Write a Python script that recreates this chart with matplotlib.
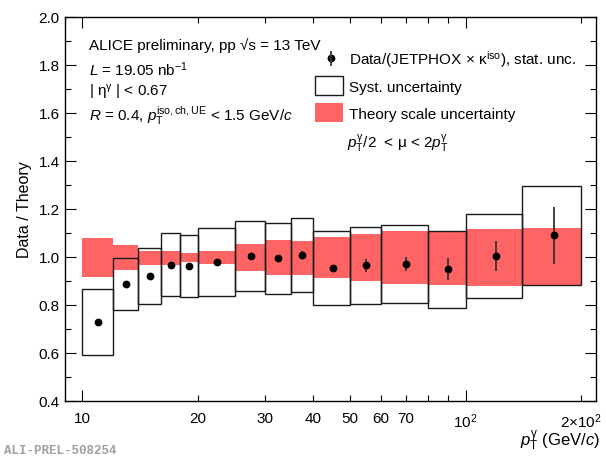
import numpy as np
import matplotlib
matplotlib.use("Agg")
import matplotlib.pyplot as plt
from matplotlib.ticker import FixedLocator, FixedFormatter
from matplotlib.patches import Rectangle
from matplotlib.lines import Line2D

plt.rcParams['font.family'] = ['Liberation Sans', 'DejaVu Sans']
plt.rcParams['mathtext.fontset'] = 'custom'
plt.rcParams['mathtext.rm'] = 'Liberation Sans'
plt.rcParams['mathtext.it'] = 'Liberation Sans:italic'
plt.rcParams['mathtext.bf'] = 'Liberation Sans:bold'
plt.rcParams['mathtext.sf'] = 'Liberation Sans'
plt.rcParams['mathtext.fallback'] = 'stixsans'

# pT binning (GeV/c) and bin centres
bin_edges = [10, 12, 14, 16, 18, 20, 25, 30, 35, 40, 50, 60, 80, 100, 140, 200]
pt_centers = [11, 13, 15, 17, 19, 22.5, 27.5, 32.5, 37.5, 45, 55, 70, 90, 120, 170]

# Data / theory ratio with statistical and systematic uncertainties
ratio = [0.732, 0.888, 0.922, 0.970, 0.963, 0.982, 1.006, 0.996, 1.011,
         0.957, 0.966, 0.972, 0.950, 1.005, 1.091]
stat_err = [0.006, 0.005, 0.005, 0.005, 0.005, 0.005, 0.006, 0.008, 0.016,
            0.013, 0.026, 0.028, 0.046, 0.064, 0.118]
syst_err = [0.137, 0.109, 0.115, 0.130, 0.129, 0.142, 0.146, 0.148, 0.154,
            0.154, 0.159, 0.161, 0.161, 0.175, 0.205]

# Theory scale uncertainty band (pT/2 < mu < 2pT), relative to central prediction
theory_lo = [0.917, 0.948, 0.969, 0.970, 0.982, 0.973, 0.942, 0.927, 0.928,
             0.914, 0.900, 0.889, 0.885, 0.880, 0.879]
theory_hi = [1.082, 1.050, 1.028, 1.025, 1.017, 1.025, 1.057, 1.072, 1.068,
             1.085, 1.098, 1.110, 1.110, 1.118, 1.122]

x_major = [10, 100]
x_major_labels = ['10', r'$10^{2}$']
x_minor = [20, 30, 40, 50, 60, 70, 80, 90, 200]
x_minor_labels = ['20', '30', '40', '50', '60', '70', '', '', r'2$\times$$10^{2}$']

band_color = '#ff6464'

fig = plt.figure(figsize=(6.06, 4.57), dpi=100)
ax = fig.add_axes([65.3 / 606, 1 - 401.3 / 457, 530.7 / 606, 384.0 / 457])

edges = np.array(bin_edges, dtype=float)
widths = np.diff(edges)
lo = np.array(theory_lo)
hi = np.array(theory_hi)
ax.bar(edges[:-1], hi - lo, width=widths, bottom=lo, align='edge',
       color=band_color, edgecolor='none', linewidth=0, zorder=1)

r = np.array(ratio)
s = np.array(syst_err)
ax.bar(edges[:-1], 2 * s, width=widths, bottom=r - s, align='edge',
       fill=False, edgecolor='#1a1a1a', linewidth=1.0, zorder=2)

ax.errorbar(pt_centers, ratio, yerr=stat_err, fmt='o', color='black',
            ecolor='#333333', elinewidth=1.3, markersize=4.6, capsize=0, zorder=3)

ax.set_xscale('log')
ax.set_xlim(9.03, 219)
ax.set_ylim(0.4, 2.0)

ax.xaxis.set_major_locator(FixedLocator(x_major))
ax.xaxis.set_major_formatter(FixedFormatter(x_major_labels))
ax.xaxis.set_minor_locator(FixedLocator(x_minor))
ax.xaxis.set_minor_formatter(FixedFormatter(x_minor_labels))
ax.yaxis.set_major_locator(FixedLocator(np.arange(0.4, 2.01, 0.2)))
ax.yaxis.set_minor_locator(FixedLocator(np.arange(0.5, 2.0, 0.2)))
ax.yaxis.set_major_formatter(plt.FuncFormatter(lambda v, p: f'{v:.1f}'))

ax.tick_params(which='both', direction='in', top=True, right=True,
               labelsize=11, width=0.8, colors='black')
ax.tick_params(which='major', length=8)
ax.tick_params(which='minor', length=4.2)
ax.tick_params(axis='x', which='both', pad=8)
ax.tick_params(axis='y', which='both', pad=4)
for sp in ax.spines.values():
    sp.set_linewidth(1.0)

ax.set_ylabel('Data / Theory', fontsize=11.5, labelpad=5)
ax.set_xlabel(r'$p_{\mathrm{T}}^{\mathrm{\gamma}}$ (GeV/$c$)', fontsize=12,
              ha='right', va='baseline')
ax.xaxis.set_label_coords(1.0075, -0.117)

# Analysis information
info_fs = 11
ax.text(0.0452, 0.915, 'ALICE preliminary, pp \u221As = 13 TeV',
        transform=ax.transAxes, fontsize=info_fs, va='baseline')
ax.text(0.0452, 0.848, r'$L$ = 19.05 nb$^{-1}$',
        transform=ax.transAxes, fontsize=info_fs, va='baseline')
ax.text(0.0452, 0.793, r'| $\mathrm{\eta}^{\mathrm{\gamma}}$ | < 0.67',
        transform=ax.transAxes, fontsize=info_fs, va='baseline')
ax.text(0.0452, 0.730,
        r'$R$ = 0.4, $p_{\mathrm{T}}^{\mathrm{iso,ch,UE}}$ < 1.5 GeV/$c$',
        transform=ax.transAxes, fontsize=info_fs, va='baseline')

# Legend
ax.add_line(Line2D([0.4999], [0.893], marker='o', color='black',
                   markersize=4.6, transform=ax.transAxes, zorder=5))
ax.add_line(Line2D([0.4999, 0.4999], [0.877, 0.909], color='#333333',
                   linewidth=1.3, transform=ax.transAxes, zorder=5))
ax.text(0.535, 0.876,
        r'Data/(JETPHOX $\times$ $\mathrm{\kappa}^{\mathrm{iso}}$), stat. unc.',
        transform=ax.transAxes, fontsize=info_fs, va='baseline')
ax.add_patch(Rectangle((0.470, 0.798), 0.054, 0.050, fill=False,
                       edgecolor='#1a1a1a', linewidth=1.0,
                       transform=ax.transAxes))
ax.text(0.535, 0.806, 'Syst. uncertainty', transform=ax.transAxes,
        fontsize=info_fs, va='baseline')
ax.add_patch(Rectangle((0.470, 0.7266), 0.054, 0.051, facecolor=band_color,
                       edgecolor='none', transform=ax.transAxes))
ax.text(0.535, 0.734, 'Theory scale uncertainty', transform=ax.transAxes,
        fontsize=info_fs, va='baseline')
ax.text(0.530, 0.661,
        r'$p_{\mathrm{T}}^{\mathrm{\gamma}}$/2  < $\mathrm{\mu}$ < 2$p_{\mathrm{T}}^{\mathrm{\gamma}}$',
        transform=ax.transAxes, fontsize=info_fs, va='baseline')

fig.text(4 / 606, 1 - 454 / 457, 'ALI-PREL-508254', family='Liberation Mono',
         fontweight='bold', fontsize=9, color='#a0a0a0', va='baseline')

fig.savefig('out.png', dpi=100)
